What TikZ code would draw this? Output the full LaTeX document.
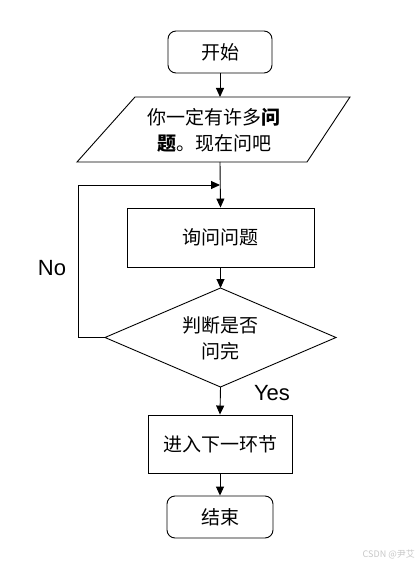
\documentclass[tikz,border=0pt]{standalone}
\usepackage{fontspec}
\setmainfont{Liberation Sans}
\newfontfamily\cjk{Noto Sans CJK SC}
\usetikzlibrary{arrows.meta}
\begin{document}
\begin{tikzpicture}[x=1pt,y=-1pt,
  every node/.style={font=\cjk\fontsize{19}{26}\selectfont, align=center, inner sep=0pt},
  line/.style={line width=0.9pt},
  arr/.style={line width=0.9pt,-{Triangle[length=9pt,width=8pt]}},
  term/.style={draw, line width=0.9pt, rounded corners=8pt, minimum width=104pt, minimum height=42pt},
  proc/.style={draw, line width=0.9pt, minimum width=144pt, minimum height=58pt},
  lbl/.style={font=\fontsize{22}{25}\selectfont}]
\useasboundingbox (0,0) rectangle (418,567);
% start
\node[term] (start) at (220,52) {开始};
% parallelogram
\draw[line] (135,97) -- (350,97) -- (307,162) -- (77,162) -- cycle;
\coordinate (parT) at (220,97);
\coordinate (parB) at (220,162);
\node (partext) at (214,130) {你一定有许多{\bfseries 问}\\{\bfseries 题}。现在问吧};
% ask box
\node[proc, minimum width=187pt, minimum height=59pt] (ask) at (220.5,237.5) {询问问题};
% diamond
\coordinate (dT) at (220.5,288);
\coordinate (dB) at (220.5,387);
\coordinate (dL) at (105,337.5);
\coordinate (dR) at (336,337.5);
\draw[line] (dT) -- (dR) -- (dB) -- (dL) -- cycle;
\node (dtext) at (220.5,338) {判断是否\\问完};
% next box
\node[proc, minimum width=144pt, minimum height=58pt] (next) at (220,444) {进入下一环节};
% end
\node[term, minimum width=106pt] (end) at (220,517) {结束};
% loop coordinates
\coordinate (loopL) at (78,337.5);
\coordinate (loopT) at (78,185);
\coordinate (loopJ) at (220,185);
% connectors
\draw[arr] (start) -- (parT);
\draw[arr] (parB) -- (ask.north);
\draw[arr] (ask.south) -- (dT);
\draw[arr] (dL) -- (loopL) -- (loopT) -- (loopJ);
\draw[arr] (dB) -- (next.north);
\draw[arr] (next.south) -- (end.north);
% labels
\node[lbl] (no) at (52,268) {No};
\node[lbl] (yes) at (272,393) {Yes};
% watermark
\node[font=\cjk\fontsize{9}{11}\selectfont, text=black!22, anchor=east] (wm) at (415,554) {CSDN @尹艾};
\end{tikzpicture}
\end{document}
